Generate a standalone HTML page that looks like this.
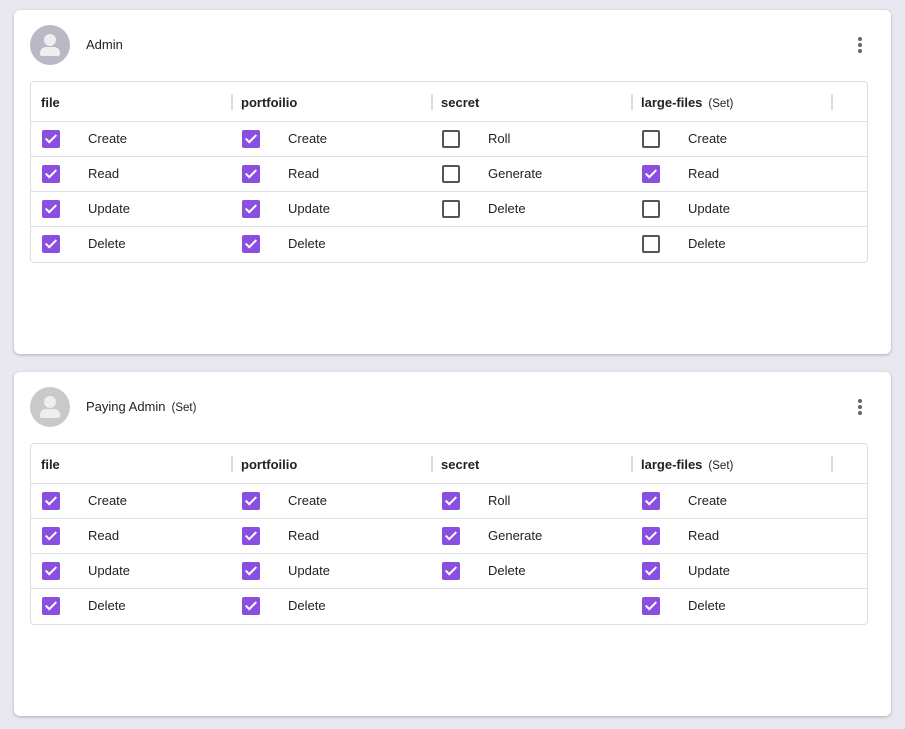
<!DOCTYPE html><html><head><style>
body{margin:0;width:905px;height:729px;background:#e9e7ef;font-family:"Liberation Sans",sans-serif;position:relative;overflow:hidden}
.card{position:absolute;left:14px;width:877px;height:344px;background:#fff;border-radius:6px;box-shadow:0 1px 3px rgba(0,0,0,.25)}
.av{position:absolute;left:16px;top:15px;width:40px;height:40px;border-radius:50%;background:#b9b8c4}
.av2{background:#c9c9c9}
.av i{position:absolute;left:14px;top:9px;width:12px;height:12px;border-radius:50%;background:#eee}
.av b{position:absolute;left:10px;top:22px;width:20px;height:9px;border-radius:6px 6px 2px 2px;background:#eee}
.name{position:absolute;left:72px;top:27px;font-size:13px;color:#222}
.set{font-size:11.5px;margin-left:6px}
.keb{position:absolute;left:844px;top:27px;width:4px}
.keb span{display:block;width:4px;height:4px;border-radius:50%;background:#666;margin-bottom:2px}
.tbl{position:absolute;left:16px;top:71px;width:836px;height:180px;border:1px solid #ddd;border-radius:4px}
.h{position:absolute;top:13px;font-size:13px;font-weight:bold;color:#222}
.sep{position:absolute;top:12px;width:2px;height:16px;background:#ddd}
.rl{position:absolute;left:0;width:836px;height:1px;background:#e0e0e0}
.cb{position:absolute;width:18px;height:18px;box-sizing:border-box;border-radius:2px}
.on{background:#8a4fe0}
.on:after{content:"";position:absolute;left:6px;top:2px;width:4px;height:9px;border:solid #fff;border-width:0 2px 2px 0;transform:rotate(45deg)}
.off{border:2px solid #555}
.lb{position:absolute;font-size:13px;color:#222}
</style></head><body>
<div class="card" style="top:10px">
<div class="av"><i></i><b></b></div><div class="name">Admin</div>
<div class="keb"><span></span><span></span><span></span></div>
<div class="tbl" id="t1"></div></div>
<div class="card" style="top:372px">
<div class="av av2"><i></i><b></b></div><div class="name">Paying Admin<span class="set">(Set)</span></div>
<div class="keb"><span></span><span></span><span></span></div>
<div class="tbl" id="t2"></div></div>
<script>
function build(id,states){
 var t=document.getElementById(id),h='';
 var cols=[['file',['Create','Read','Update','Delete']],['portfoilio',['Create','Read','Update','Delete']],['secret',['Roll','Generate','Delete']],['large-files<span class="set" style="font-weight:normal">(Set)</span>',['Create','Read','Update','Delete']]];
 [200,400,600,800].forEach(function(x){h+='<div class="sep" style="left:'+x+'px"></div>'});
 [39,74,109,144].forEach(function(y){h+='<div class="rl" style="top:'+y+'px"></div>'});
 cols.forEach(function(c,ci){var x=ci*200;h+='<div class="h" style="left:'+(x+10)+'px">'+c[0]+'</div>';
  c[1].forEach(function(l,ri){var y=48+ri*35;h+='<div class="cb '+(states[ci][ri]?'on':'off')+'" style="left:'+(x+11)+'px;top:'+y+'px"></div><div class="lb" style="left:'+(x+57)+'px;top:'+(y+1)+'px">'+l+'</div>'})});
 t.innerHTML=h;}
build('t1',[[1,1,1,1],[1,1,1,1],[0,0,0],[0,1,0,0]]);
build('t2',[[1,1,1,1],[1,1,1,1],[1,1,1],[1,1,1,1]]);
</script></body></html>
